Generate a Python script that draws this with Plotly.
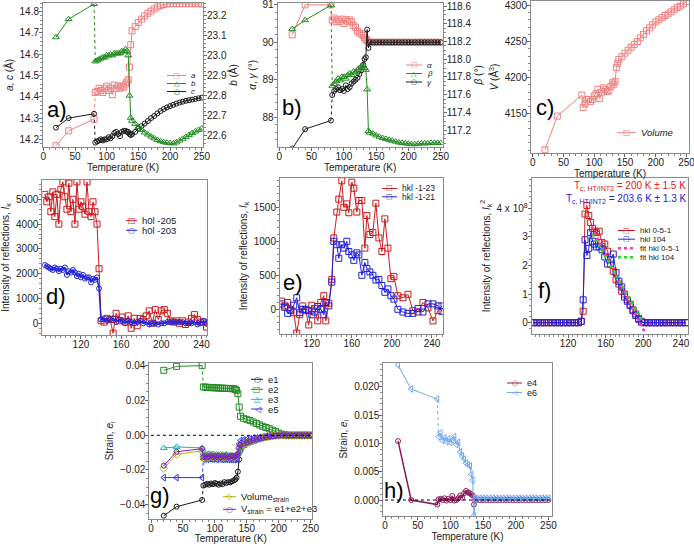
import plotly.graph_objects as go

W, H = 694, 544
FONT = "Liberation Sans, Arial, sans-serif"

# ---------------- data ----------------
T_LOW = [20, 40, 80]
T_HIGH = [82, 85, 88, 91, 94, 97, 100, 103, 106, 109, 112, 115, 118, 121, 124, 127, 130,
          132, 134, 136, 138, 140, 145, 150, 155, 160, 165, 170, 175, 180, 185, 190, 195,
          200, 205, 210, 215, 220, 225, 230, 235, 240, 245, 250]

# panel a
A_LOW = [14.17, 14.24, 14.295]
A_HIGH = [14.42, 14.425, 14.44, 14.43, 14.42, 14.44, 14.45, 14.43, 14.44, 14.41, 14.455, 14.44,
          14.45, 14.44, 14.45, 14.445, 14.46, 14.47, 14.48, 14.54, 14.645, 14.71, 14.73, 14.75,
          14.765, 14.78, 14.793, 14.803, 14.813, 14.822, 14.829, 14.834, 14.837, 14.838, 14.838,
          14.838, 14.838, 14.838, 14.838, 14.838, 14.838, 14.838, 14.838, 14.836]
B_LOW = [23.09, 23.18, 23.255]
B_HIGH = [22.97, 22.975, 22.98, 22.985, 22.99, 22.99, 23.0, 23.0, 23.005, 23.0, 23.01, 23.01,
          23.01, 23.01, 23.02, 23.02, 23.03, 23.02, 23.0, 22.80, 22.69, 22.675, 22.66, 22.645,
          22.63, 22.617, 22.607, 22.597, 22.588, 22.58, 22.574, 22.569, 22.566, 22.564, 22.563,
          22.568, 22.577, 22.586, 22.595, 22.605, 22.614, 22.622, 22.63, 22.637]
C_LOW = [14.255, 14.30, 14.32]
C_HIGH = [14.185, 14.19, 14.195, 14.2, 14.195, 14.2, 14.2, 14.21, 14.205, 14.215, 14.23, 14.235,
          14.225, 14.215, 14.235, 14.24, 14.24, 14.235, 14.235, 14.225, 14.22, 14.225, 14.235,
          14.25, 14.262, 14.274, 14.286, 14.3, 14.31, 14.322, 14.333, 14.342, 14.35, 14.356,
          14.362, 14.368, 14.373, 14.377, 14.381, 14.384, 14.387, 14.39, 14.393, 14.396]

# panel b
ALPHA_LOW = [90.2, 91.0, 91.0]
ALPHA_HIGH = [90.6, 90.65, 90.55, 90.6, 90.55, 90.62, 90.5, 90.6, 90.55, 90.6, 90.55, 90.45,
              90.4, 90.3, 90.25, 90.22, 90.18, 90.12, 90.08, 90.05, 90.0, 90.0, 90.0, 90.0,
              90.0, 90.0, 90.0, 90.0, 90.0, 90.0, 90.0, 90.0, 90.0, 90.0, 90.0, 90.0, 90.0,
              90.0, 90.0, 90.0, 90.0, 90.0, 90.0, 90.0]
BETA_LOW = [118.34, 118.44, 118.61]
BETA_HIGH = [117.70, 117.72, 117.75, 117.78, 117.76, 117.8, 117.8, 117.78, 117.82, 117.84,
             117.82, 117.86, 117.85, 117.88, 117.9, 117.92, 117.93, 117.9, 117.88, 117.66,
             117.19, 117.17, 117.16, 117.14, 117.125, 117.11, 117.1, 117.09, 117.08, 117.07,
             117.06, 117.055, 117.05, 117.045, 117.04, 117.04, 117.045, 117.05, 117.05, 117.05,
             117.055, 117.055, 117.055, 117.055]
GAMMA_LOW = [87.16, 87.68, 87.91]
GAMMA_HIGH = [88.59, 88.7, 88.75, 88.8, 88.72, 88.75, 88.7, 88.85, 88.75, 88.8, 88.9, 88.95,
              89.0, 89.05, 89.15, 89.25, 89.4, 89.55, 89.6, 90.34, 89.85, 90.0, 90.0, 90.0,
              90.0, 90.0, 90.0, 90.0, 90.0, 90.0, 90.0, 90.0, 90.0, 90.0, 90.0, 90.0, 90.0,
              90.0, 90.0, 90.0, 90.0, 90.0, 90.0, 90.0]

# panel c
V_LOW = [4100.5, 4147, 4176]
V_HIGH = [4159, 4164, 4170, 4170, 4167, 4170, 4175, 4178, 4184, 4171, 4180, 4186, 4184, 4181,
          4182, 4188, 4193, 4191, 4195, 4214, 4220, 4225, 4229, 4234, 4238, 4242, 4246, 4250,
          4255, 4260, 4265, 4269, 4273, 4277, 4280, 4283, 4286, 4288, 4291, 4294, 4297, 4299,
          4302, 4305]

# panel d
T_D = [84, 86, 88, 90, 92, 94, 96, 98, 100, 102, 104, 106, 108, 110, 112, 114, 116, 118, 120,
       122, 124, 126, 128, 130, 132, 134, 136, 138, 140, 143, 146, 149, 152, 155, 158, 161,
       164, 167, 170, 173, 176, 179, 182, 185, 188, 191, 194, 197, 200, 203, 206, 209, 212,
       215, 218, 221, 224, 227, 230, 233, 236, 239, 242, 245]
I_205 = [5200, 4900, 5100, 4500, 5300, 4300, 5200, 4000, 5400, 5700, 5100, 4600, 5650, 4500,
         5000, 4000, 5700, 4600, 4900, 4700, 4400, 5700, 4500, 4300, 4900, 4500, 4000, 2200,
         100, 50, 200, 150, -400, 400, 100, 250, 50, 300, -200, 200, -100, 200, 150, 300, 500,
         0, 550, 150, 500, 550, 400, 100, 50, 100, 0, 100, -50, 50, 200, 350, 150, 50, 50, -150]
I_203 = [2350, 2300, 2250, 2200, 2150, 2250, 2200, 2100, 2200, 2150, 2250, 1950, 2100, 2050,
         2150, 2050, 1900, 2000, 1850, 1950, 1800, 1850, 1850, 1650, 1800, 1750, 1850, 1400,
         150, 200, 100, 150, 200, 50, 150, 100, 0, 100, 50, 0, 50, 100, 0, 50, -50, 0, 0, -50,
         0, 0, 50, 50, 50, 50, 50, 50, 0, 0, 0, 50, -50, 0, 100, 0]

# panel e
T_E = [90, 93, 96, 99, 102, 105, 108, 111, 114, 117, 120, 123, 126, 129, 132, 134, 137, 140,
       142, 145, 147, 150, 152, 155, 157, 160, 162, 165, 167, 170, 173, 175, 178, 181, 184,
       187, 190, 193, 196, 199, 202, 206, 211, 216, 221, 226, 231, 236, 241, 246, 250]
I_123 = [120, 50, 100, 0, -50, -350, -80, 50, -20, -230, 60, 10, -170, 100, 200, -170, 90, 440,
         1050, 1430, 1620, 1890, 1500, 1550, 1420, 1870, 1780, 1430, 1600, 1600, 900, 1380,
         1100, 1130, 1560, 1050, 850, 1330, 900, 450, 480, 200, 170, 220, -20, -40, 100, 20,
         -170, -20, 50]
I_121 = [80, 30, -60, -20, 60, 170, -50, 0, 0, -20, -80, -40, 40, 0, -80, 100, 50, 400, 1000,
         950, 750, 950, 900, 1000, 850, 800, 720, 830, 800, 500, 690, 600, 550, 500, 430, 440,
         350, 250, 300, 200, 150, 0, -40, -60, -60, 10, -40, 80, 80, 50, -30]

# panel f (I_k^2 in units of 1e8)
T_F = [83, 87, 91, 95, 99, 103, 107, 111, 115, 119, 123, 127, 131, 134, 136, 138, 140, 142,
       144, 146, 148, 150, 153, 156, 159, 162, 165, 168, 171, 174, 177, 180, 183, 186, 189,
       192, 195, 198, 201, 205, 209, 213, 217, 221, 225, 229, 233, 237, 241, 245]
I2_051 = [0, 0, 0, 0, 0, 0, 0, 0, 0, 0, 0, 0, 0, 0.05, 0.4, 3.8, 4.1, 3.75, 3.5, 3.3, 3.2,
          3.15, 3.2, 2.8, 2.75, 2.5, 2.05, 1.8, 1.5, 1.35, 1.1, 1.0, 0.8, 0.65, 0.45, 0.3,
          0.15, 0.05, 0.0, 0, 0, 0, 0, 0, 0, 0, 0, 0, 0, 0]
I2_104 = [0, 0, 0, 0, 0, 0, 0, 0, 0, 0, 0, 0, 0, 0.05, 0.8, 2.9, 2.35, 2.6, 3.15, 2.85, 2.75,
          2.65, 2.65, 2.55, 2.3, 2.05, 2.2, 2.4, 1.75, 1.45, 1.25, 0.9, 0.75, 0.6, 0.42, 0.25,
          0.12, 0.02, 0.0, 0, 0, 0, 0, 0, 0, 0, 0, 0, 0, 0]
FIT_051_T = [145, 201]
FIT_051_Y = [3.35, -0.3]
FIT_104_T = [146, 200]
FIT_104_Y = [3.1, 0.0]

# panel g
E1_LOW = [-0.0464, -0.0412, -0.0373]
E1_HIGH = [-0.029, -0.0285, -0.028, -0.0285, -0.0278, -0.0282, -0.0275, -0.028, -0.0285,
           -0.0278, -0.0282, -0.027, -0.0275, -0.027, -0.0272, -0.0265, -0.026, -0.0255,
           -0.0245, -0.021, -0.014, -0.009, -0.006, -0.0045, -0.0035, -0.0028, -0.0022,
           -0.0017, -0.0013, -0.001, -0.0007, -0.0005, -0.0003, -0.0002, -0.0001, 0, 0, 0, 0,
           0, 0, 0, 0, 0]
E2_LOW = [0.0375, 0.0398, 0.0402]
E2_HIGH = [0.0279, 0.0278, 0.0277, 0.0276, 0.0275, 0.0275, 0.0274, 0.0274, 0.0273, 0.0272,
           0.0272, 0.0271, 0.0271, 0.027, 0.027, 0.0269, 0.0268, 0.0265, 0.026, 0.024, 0.0163,
           0.011, 0.0098, 0.0092, 0.0085, 0.0077, 0.0068, 0.006, 0.0052, 0.0045, 0.0038, 0.003,
           0.0022, 0.0013, 0.0006, 0.0002, 0, 0, 0, 0, 0, 0, 0, 0]
E3_LOW = [-0.0073, -0.0067, -0.0073]
E3_HIGH = [-0.0105, -0.0108, -0.011, -0.0105, -0.011, -0.0108, -0.0112, -0.011, -0.0115,
           -0.011, -0.0112, -0.0115, -0.011, -0.0118, -0.0115, -0.012, -0.0118, -0.012,
           -0.0115, -0.0105, -0.009, -0.0075, -0.0062, -0.0052, -0.0044, -0.0037, -0.003,
           -0.0024, -0.0019, -0.0014, -0.001, -0.0007, -0.0004, -0.0002, -0.0001, 0, 0, 0, 0,
           0, 0, 0, 0, 0]
E5_LOW = [-0.0244, -0.0244, -0.0244]
E5_HIGH = [-0.0138, -0.0135, -0.0138, -0.0134, -0.0136, -0.0137, -0.0135, -0.0138, -0.0136,
           -0.0137, -0.0139, -0.0137, -0.0138, -0.0139, -0.0138, -0.014, -0.0139, -0.0138,
           -0.0135, -0.012, -0.005, -0.003, -0.0027, -0.0024, -0.0021, -0.0018, -0.0015,
           -0.0012, -0.0009, -0.0006, -0.0004, -0.0002, -0.0001, 0, 0, 0, 0, 0, 0, 0, 0, 0, 0, 0]
VOLS_LOW = [-0.0192, -0.011, -0.009]
VOLS_HIGH = [-0.0128, -0.0122, -0.013, -0.0124, -0.0118, -0.0128, -0.0122, -0.0126, -0.012,
             -0.013, -0.0122, -0.0126, -0.012, -0.0128, -0.0124, -0.012, -0.0128, -0.0122,
             -0.0118, -0.011, -0.0075, -0.0058, -0.005, -0.0043, -0.0036, -0.003, -0.0025,
             -0.002, -0.0015, -0.0011, -0.0008, -0.0005, -0.0003, -0.0001, 0, 0, 0, 0, 0, 0,
             0, 0, 0, 0]
VSUM_LOW = [-0.0175, -0.0095, -0.0077]
VSUM_HIGH = [-0.0125, -0.012, -0.0128, -0.0121, -0.0116, -0.0126, -0.012, -0.0124, -0.0118,
             -0.0127, -0.012, -0.0124, -0.0118, -0.0126, -0.0122, -0.0118, -0.0126, -0.012,
             -0.0116, -0.0108, -0.0073, -0.0056, -0.0048, -0.0041, -0.0035, -0.0029, -0.0024,
             -0.0019, -0.0015, -0.0011, -0.0008, -0.0005, -0.0003, -0.0001, 0, 0, 0, 0, 0, 0,
             0, 0, 0, 0]

# panel h
E4_LOW = [0.0104, 0.0, -0.0008]
E4_HIGH = [0.0001, 0.0002, 0.0, 0.0003, -0.0001, 0.0002, 0.0, 0.0007, -0.0001, 0.0, 0.0003,
           0.0008, 0.0004, 0.0012, 0.0016, 0.0013, 0.0012, 0.001, 0.0008, -0.0008, 0.0001, 0.0,
           0, 0, 0, 0, 0, 0, 0, 0, 0, 0, 0, 0, 0, 0, 0, 0, 0, 0, 0, 0, 0, 0]
E6_LOW = [0.0238, 0.0196, 0.0178]
E6_HIGH = [0.0112, 0.0118, 0.0105, 0.011, 0.0103, 0.0108, 0.0102, 0.0106, 0.0112, 0.0098,
           0.0102, 0.0085, 0.0078, 0.0072, 0.0065, 0.0062, 0.006, 0.0045, 0.0035, -0.0028,
           0.0002, 0.0003, 0.0003, 0.0003, 0.0003, 0.0003, 0.0003, 0.0003, 0.0003, 0.0003,
           0.0003, 0.0003, 0.0003, 0.0003, 0.0003, 0.0003, 0.0003, 0.0003, 0.0003, 0.0003,
           0.0003, 0.0003, 0.0003, 0.0003]

# ---------------- styles ----------------
PINK = "#f28080"
GREEN = "#228b22"
BLACK = "#1a1a1a"
RED = "#cc1a1a"
BLUE = "#2020e0"
MAGENTA = "#ff33cc"
LIME = "#22dd22"
CYAN = "#20b0b8"
BLUE5 = "#3030ff"
OLIVE = "#b0b000"
PURPLE = "#7a1fc0"
E4C = "#8b1a5a"
E6C = "#70a8f5"

fig = go.Figure()


def add(x, y, xa, ya, color, symbol, size=6, dash="solid", mode="lines+markers", lw=1):
    fig.add_trace(go.Scatter(
        x=x, y=y, xaxis=xa, yaxis=ya, mode=mode,
        line=dict(color=color, width=lw, dash=dash),
        marker=dict(symbol=symbol, size=size, color=color, line=dict(width=1, color=color)),
        showlegend=False, hoverinfo="skip"))


def split(lo, hi, xa, ya, color, symbol, size=6, connector="dot"):
    add(T_LOW, lo, xa, ya, color, symbol, size)
    add([T_LOW[-1], T_HIGH[0]], [lo[-1], hi[0]], xa, ya, color, symbol, mode="lines", dash=connector)
    add(T_HIGH, hi, xa, ya, color, symbol, size)


# panel a
split(A_LOW, A_HIGH, "x", "y", PINK, "square-open")
split(C_LOW, C_HIGH, "x", "y", BLACK, "circle-open", 5)
split(B_LOW, B_HIGH, "x", "y2", GREEN, "triangle-up-open")
# panel b
split(ALPHA_LOW, ALPHA_HIGH, "x2", "y3", PINK, "square-open")
split(GAMMA_LOW, GAMMA_HIGH, "x2", "y3", BLACK, "circle-open", 5)
split(BETA_LOW, BETA_HIGH, "x2", "y4", GREEN, "triangle-up-open")
# panel c
add(T_LOW + T_HIGH, V_LOW + V_HIGH, "x3", "y5", PINK, "square-open")
# panel d
add(T_D, I_205, "x4", "y6", RED, "square-open")
add(T_D, I_203, "x4", "y6", BLUE, "circle-open", 5, lw=1.5)
# panel e
add(T_E, I_123, "x5", "y7", RED, "square-open")
add(T_E, I_121, "x5", "y7", BLUE, "square-open")
# panel f
add(T_F, I2_051, "x6", "y8", RED, "square-open")
add(T_F, I2_104, "x6", "y8", BLUE, "square-open")
add(FIT_051_T, FIT_051_Y, "x6", "y8", MAGENTA, "circle", mode="lines", dash="dot", lw=2.5)
add(FIT_104_T, FIT_104_Y, "x6", "y8", LIME, "circle", mode="lines", dash="dot", lw=2.5)
# panel g
split(E2_LOW, E2_HIGH, "x7", "y9", GREEN, "square-open")
split(E1_LOW, E1_HIGH, "x7", "y9", BLACK, "circle-open", 5)
add(T_LOW + T_HIGH, E3_LOW + E3_HIGH, "x7", "y9", CYAN, "triangle-up-open")
split(E5_LOW, E5_HIGH, "x7", "y9", BLUE5, "triangle-left-open")
add(T_LOW + T_HIGH, VOLS_LOW + VOLS_HIGH, "x7", "y9", OLIVE, "diamond-open")
add(T_LOW + T_HIGH, VSUM_LOW + VSUM_HIGH, "x7", "y9", PURPLE, "circle-open", 5)
# panel h
add(T_LOW + T_HIGH, E4_LOW + E4_HIGH, "x8", "y10", E4C, "circle-open", 5, lw=1.5)
split(E6_LOW, E6_HIGH, "x8", "y10", E6C, "triangle-left-open")


# ---------------- axes ----------------
def px_dom_x(a, b):
    return [a / W, b / W]


def px_dom_y(top, bottom):
    return [1 - bottom / H, 1 - top / H]


def base_axis():
    return dict(showline=True, linecolor="#8a8a8a", linewidth=1, ticks="outside", ticklen=3,
                tickcolor="#666", tickfont=dict(size=10, color="#222", family=FONT),
                showgrid=False, zeroline=False, automargin=False, ticklabeloverflow="allow",
                title=dict(font=dict(size=10, color="#222", family=FONT)))


def xaxis(dom, rng, anchor, tickvals, minor_dt, title=None, standoff=2):
    d = base_axis()
    d.update(domain=px_dom_x(*dom), range=rng, anchor=anchor, tickvals=tickvals, mirror=True,
             ticklabelstandoff=-3,
             minor=dict(ticks="outside", ticklen=2, tickcolor="#888", dtick=minor_dt, tick0=0))
    if title:
        d["title"]["text"] = title
        d["title"]["standoff"] = standoff
    return d


def yaxis(dom, rng, anchor, tickvals, minor_dt, title, fmt=None, side="left", overlay=None,
          mirror=True, ticktext=None, standoff=4):
    d = base_axis()
    d.update(domain=px_dom_y(*dom), range=rng, anchor=anchor, tickvals=tickvals, side=side,
             mirror=mirror, ticklabelstandoff=-2,
             minor=dict(ticks="outside", ticklen=2, tickcolor="#888", dtick=minor_dt,
                        tick0=0))
    d["title"]["text"] = title
    d["title"]["standoff"] = standoff
    if fmt:
        d["tickformat"] = fmt
    if overlay:
        d["overlaying"] = overlay
    if ticktext:
        d["ticktext"] = ticktext
    return d


T_TICKS = [0, 50, 100, 150, 200, 250]
T_TICKS2 = [120, 160, 200, 240]
TEMP = "Temperature (K)"
INT = "Intensity of reflections, <i>I</i><sub>k</sub>"

layout = dict(
    width=W, height=H, margin=dict(l=0, r=0, t=0, b=0), autosize=False,
    paper_bgcolor="white", plot_bgcolor="white", showlegend=False,
    font=dict(family=FONT, size=10, color="#222"),
    # a
    xaxis=xaxis((43, 203), [-0.5, 252], "y", T_TICKS, 10, TEMP),
    yaxis=yaxis((3, 147), [14.164, 14.841], "x", [14.2, 14.3, 14.4, 14.5, 14.6, 14.7, 14.8],
                0.02, "<i>a</i>, <i>c</i> (Å)", ".1f", mirror=False),
    yaxis2=yaxis((3, 147), [22.545, 23.26], "x", [22.6, 22.7, 22.8, 22.9, 23.0, 23.1, 23.2],
                 0.02, "<i>b</i> (Å)", ".1f", side="right", overlay="y", mirror=False),
    # b
    xaxis2=xaxis((277.7, 442.7), [-2.5, 253], "y3", T_TICKS, 10, TEMP),
    yaxis3=yaxis((3, 146.7), [87.21, 91.05], "x2", [88, 89, 90, 91], 0.2,
                 "<i>α</i>, <i>γ</i> (°)", mirror=False),
    yaxis4=yaxis((3, 146.7), [117.012, 118.634], "x2",
                 [117.2, 117.4, 117.6, 117.8, 118.0, 118.2, 118.4, 118.6], 0.05,
                 "<i>β</i> (°)", ".1f", side="right", overlay="y3", mirror=False),
    # c
    xaxis3=xaxis((531, 689), [-2.7, 254], "y5", T_TICKS, 10, TEMP),
    yaxis5=yaxis((1, 153), [4096, 4306], "x3", [4150, 4200, 4250, 4300], 10,
                 "<i>V</i> (Å<sup>3</sup>)"),
    # d
    xaxis4=xaxis((42.3, 207), [81.5, 245.5], "y6", T_TICKS2, 5),
    yaxis6=yaxis((180, 335), [-472, 5778], "x4", [0, 1000, 2000, 3000, 4000, 5000], 200, INT),
    # e
    xaxis5=xaxis((280, 443), [88.3, 251], "y7", T_TICKS2, 5),
    yaxis7=yaxis((178, 334), [-363, 1931], "x5", [0, 500, 1000, 1500], 100, INT),
    # f
    xaxis6=xaxis((531.7, 688), [81.3, 247.5], "y8", T_TICKS2, 5),
    yaxis8=yaxis((178, 334), [-0.395, 5.06], "x6", [0, 1, 2, 3, 4], 0.2,
                 INT + "<sup>2</sup>", ticktext=["0", "1", "2", "3", "4 x 10<sup>8</sup>"]),
    # g
    xaxis7=xaxis((149.3, 312.3), [-2.7, 252.5], "y9", T_TICKS, 10, TEMP),
    yaxis9=yaxis((362.7, 519), [-0.0483, 0.0419], "x7", [-0.04, -0.02, 0.0, 0.02, 0.04],
                 0.005, "Strain, <i>e</i><sub>i</sub>", ".2f"),
    # h
    xaxis8=xaxis((383.3, 551.7), [-2.6, 255], "y10", T_TICKS, 10, TEMP),
    yaxis10=yaxis((362.7, 515.7), [-0.00277, 0.02424], "x8",
                  [0.0, 0.005, 0.010, 0.015, 0.020], 0.001,
                  "Strain, <i>e</i><sub>i</sub>", ".3f"),
)
fig.update_layout(**layout)

# ---------------- shapes / annotations ----------------
shapes = []
annotations = []

# zero reference lines in g and h
for xa, ya in (("x7", "y9"), ("x8", "y10")):
    shapes.append(dict(type="line", xref=xa + " domain", x0=0.01, x1=0.99, yref=ya, y0=0, y1=0,
                       line=dict(color="black", width=1, dash="dot")))

# panel letters
for txt, xp, yp in (("a)", 57, 109), ("b)", 292, 108), ("c)", 545, 108), ("d)", 56, 296),
                    ("e)", 293, 282), ("f)", 544, 290), ("g)", 160, 495), ("h)", 394, 490)):
    annotations.append(dict(text=txt, x=xp / W, y=1 - yp / H, xref="paper", yref="paper",
                            showarrow=False, font=dict(size=22, color="black", family=FONT),
                            xanchor="center", yanchor="middle"))

SYM = {"square": "□", "triangle": "△", "circle": "○", "diamond": "◇", "left": "◁"}


def legend_entry(x0, x1, yp, color, sym, label, dash="solid", lw=1, fsize=9.5, ssize=8):
    yy = 1 - yp / H
    shapes.append(dict(type="line", xref="paper", yref="paper", x0=x0 / W, x1=x1 / W, y0=yy,
                       y1=yy, line=dict(color=color, width=lw, dash=dash)))
    if sym:
        annotations.append(dict(text=SYM[sym], x=(x0 + x1) / 2 / W, y=yy, xref="paper",
                                yref="paper", showarrow=False, xanchor="center",
                                yanchor="middle",
                                font=dict(size=ssize, color=color, family="DejaVu Sans")))
    annotations.append(dict(text=label, x=(x1 + 3) / W, y=yy, xref="paper", yref="paper",
                            showarrow=False, xanchor="left", yanchor="middle",
                            font=dict(size=fsize, color="#222", family=FONT)))


legend_entry(167, 186, 75.5, PINK, "square", "<i>a</i>", fsize=8, ssize=7)
legend_entry(167, 186, 83.5, GREEN, "triangle", "<i>b</i>", fsize=8, ssize=7)
legend_entry(167, 186, 91.5, BLACK, "circle", "<i>c</i>", fsize=8, ssize=7)

legend_entry(406, 422, 65.0, PINK, "square", "<i>α</i>", fsize=8, ssize=7)
legend_entry(406, 422, 73.5, GREEN, "triangle", "<i>β</i>", fsize=8, ssize=7)
legend_entry(406, 422, 82.0, BLACK, "circle", "<i>γ</i>", fsize=8, ssize=7)

legend_entry(617, 636, 132.7, PINK, "square", "<i>Volume</i>")

legend_entry(126, 137, 220.7, RED, "square", "h0l -205")
legend_entry(126, 137, 230.3, BLUE, "circle", "h0l -203")

legend_entry(382, 397, 188.5, RED, "square", "hkl -1-23", fsize=8.5, ssize=7)
legend_entry(382, 397, 196.8, BLUE, "square", "hkl -1-21", fsize=8.5, ssize=7)

legend_entry(618, 635, 230.5, RED, "square", "hkl 0-5-1", fsize=8, ssize=7)
legend_entry(618, 635, 239.2, BLUE, "square", "hkl 104", fsize=8, ssize=7)
legend_entry(618, 635, 248.3, MAGENTA, None, "fit hkl 0-5-1", dash="dot", lw=2.5, fsize=8)
legend_entry(618, 635, 257.3, LIME, None, "fit hkl 104", dash="dot", lw=2.5, fsize=8)

legend_entry(251, 263, 379.3, BLACK, "circle", "e1")
legend_entry(251, 263, 389.3, GREEN, "square", "e2")
legend_entry(251, 263, 399.3, CYAN, "triangle", "e3")
legend_entry(251, 263, 409.0, BLUE5, "left", "e5")
legend_entry(223, 236, 496.7, OLIVE, "diamond", "Volume<sub>strain</sub>")
legend_entry(223, 236, 509.3, PURPLE, "circle", "V<sub>strain</sub> = e1+e2+e3")

legend_entry(507, 522, 383.0, E4C, "circle", "e4", fsize=9, ssize=7)
legend_entry(507, 522, 392.5, E6C, "left", "e6", fsize=9, ssize=7)

# Tc texts in panel f
annotations.append(dict(text="T<sub>c, HT/INT2</sub> = 200 K ± 1.5 K", x=688 / W,
                        y=1 - 186 / H, xref="paper", yref="paper", showarrow=False,
                        xanchor="right", yanchor="middle",
                        font=dict(size=10, color="#e02020", family=FONT)))
annotations.append(dict(text="T<sub>c, HT/INT2</sub> = 203.6 K ± 1.3 K", x=689 / W,
                        y=1 - 199 / H, xref="paper", yref="paper", showarrow=False,
                        xanchor="right", yanchor="middle",
                        font=dict(size=10, color="#2020e0", family=FONT)))

fig.update_layout(shapes=shapes, annotations=annotations)
fig.write_html("out.html", config={"displayModeBar": False},
               post_script="document.body.style.margin='0px';document.body.style.padding='0px';")
